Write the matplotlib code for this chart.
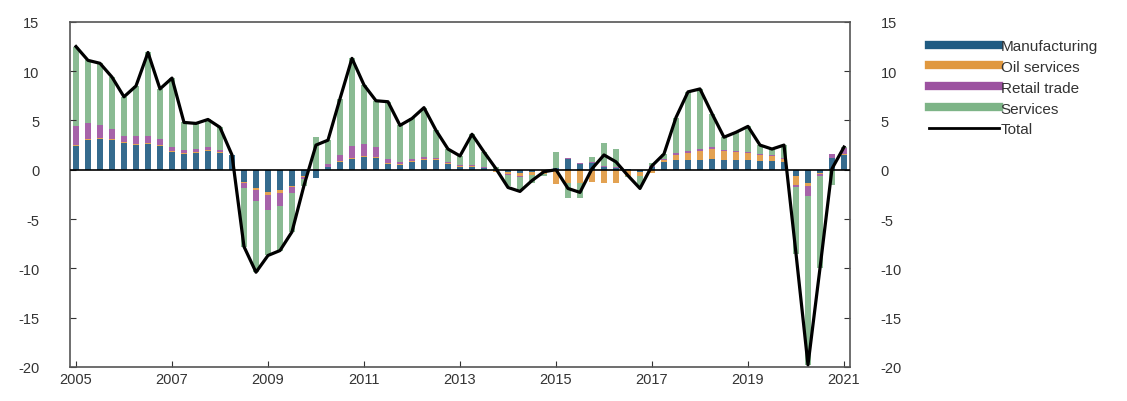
import matplotlib.pyplot as plt
import numpy as np

plt.rcParams['font.family'] = ['Liberation Sans', 'DejaVu Sans']
plt.rcParams['axes.unicode_minus'] = False

# Quarterly data, 2005Q1 - 2021Q1
years = list(range(2005, 2022))
manufacturing = [2.4, 3.0, 3.1, 3.0, 2.7, 2.5, 2.6, 2.4, 1.8, 1.6, 1.7, 1.9,
                 1.7, 1.5, -1.2, -1.9, -2.3, -2.1, -1.6, -0.6, -0.8, 0.3, 0.8, 1.1,
                 1.3, 1.2, 0.6, 0.5, 0.8, 1.0, 1.0, 0.6, 0.3, 0.3, 0.2, -0.1,
                 -0.2, -0.3, -0.2, 0.0, 0.2, 1.1, 0.6, 0.7, 0.3, 0.2, 0.1, -0.2,
                 0.3, 0.8, 1.0, 1.0, 1.0, 1.1, 1.0, 1.0, 1.0, 0.9, 0.9, 0.8,
                 -0.6, -1.3, -0.3, 1.2, 1.5]
oil_services = [0.1, 0.1, 0.1, 0.1, 0.1, 0.1, 0.1, 0.1, 0.1, 0.1, 0.1, 0.1,
                0.1, 0.0, -0.1, -0.2, -0.3, -0.3, -0.2, -0.1, 0.0, 0.0, 0.1, 0.1,
                0.1, 0.1, 0.1, 0.1, 0.1, 0.1, 0.1, 0.1, 0.1, 0.1, 0.0, -0.1,
                -0.2, -0.3, -0.3, -0.4, -1.4, -1.3, -1.3, -1.2, -1.3, -1.3, -0.6, -0.4,
                -0.3, 0.2, 0.5, 0.7, 0.9, 1.0, 0.9, 0.8, 0.7, 0.6, 0.5, 0.3,
                -0.9, -0.4, -0.1, 0.0, 0.1]
retail_trade = [1.9, 1.6, 1.3, 1.0, 0.6, 0.8, 0.7, 0.6, 0.4, 0.3, 0.3, 0.3,
                0.2, 0.0, -0.6, -1.1, -1.5, -1.3, -0.6, -0.2, 0.1, 0.3, 0.6, 1.2,
                1.2, 1.0, 0.4, 0.2, 0.2, 0.2, 0.1, 0.1, 0.1, 0.1, 0.1, 0.0,
                -0.1, -0.1, 0.0, 0.0, 0.0, 0.1, 0.1, 0.1, 0.1, 0.1, 0.0, 0.0,
                0.1, 0.1, 0.2, 0.2, 0.2, 0.2, 0.1, 0.1, 0.1, 0.1, 0.1, 0.1,
                -0.3, -1.0, -0.2, 0.4, 0.6]
services = [8.1, 6.4, 6.3, 5.3, 4.0, 5.1, 8.5, 5.1, 7.0, 2.8, 2.6, 2.8,
            2.3, 0.0, -5.9, -7.2, -4.6, -4.5, -3.9, -0.7, 3.2, 2.4, 5.7, 8.9,
            6.0, 4.7, 5.8, 3.7, 4.1, 5.0, 2.8, 1.3, 0.9, 3.1, 1.5, 0.3,
            -1.1, -1.5, -0.8, -0.2, 1.6, -1.6, -1.6, 0.5, 2.3, 1.8, -0.1, -1.0,
            0.3, 0.5, 3.6, 6.0, 6.1, 3.4, 1.3, 1.9, 2.6, 0.9, 0.6, 1.3,
            -6.7, -17.1, -9.4, -1.5, 0.1]
total = [12.5, 11.1, 10.8, 9.4, 7.4, 8.5, 11.9, 8.2, 9.3, 4.8, 4.7, 5.1,
         4.3, 1.5, -7.8, -10.4, -8.7, -8.2, -6.3, -1.6, 2.5, 3.0, 7.2, 11.3,
         8.6, 7.0, 6.9, 4.5, 5.2, 6.3, 4.0, 2.1, 1.4, 3.6, 1.8, 0.1,
         -1.8, -2.2, -1.1, -0.2, 0.0, -1.9, -2.3, 0.1, 1.5, 0.8, -0.6, -1.9,
         0.4, 1.6, 5.3, 7.9, 8.2, 5.7, 3.3, 3.8, 4.4, 2.5, 2.1, 2.5,
         -8.5, -19.8, -10.0, 0.1, 2.3]

series = [("Manufacturing", manufacturing, "#1f5b82"),
          ("Oil services", oil_services, "#e0983f"),
          ("Retail trade", retail_trade, "#9c52a0"),
          ("Services", services, "#7db487")]

x = np.arange(len(total))

fig = plt.figure(figsize=(11.27, 4.02), dpi=100)
ax = fig.add_axes([0.0621, 0.085, 0.6921, 0.858])

# stack positives upwards and negatives downwards
pos_bottom = np.zeros(len(x))
neg_bottom = np.zeros(len(x))
for name, vals, color in series:
    v = np.array(vals)
    bottom = np.where(v >= 0, pos_bottom, neg_bottom)
    ax.bar(x, v, width=0.45, bottom=bottom, color=color, alpha=0.9,
           label=name, linewidth=0)
    pos_bottom += np.where(v >= 0, v, 0)
    neg_bottom += np.where(v < 0, v, 0)

ax.axhline(0, color="black", lw=1.2, zorder=3)
ax.plot(x, total, color="black", lw=2.3, label="Total", zorder=4)

ax.set_xlim(-0.5, len(x) - 0.5)
ax.set_ylim(-20, 15)
ax.set_yticks(range(-20, 16, 5))
ax.set_xticks(x[::8])
ax.set_xticklabels([str(y) for y in years[::2]])
ax.tick_params(axis="both", direction="in", labelsize=10.5, colors="#333333",
               length=4, right=True, labelright=True)
ax.tick_params(axis="y", pad=22)
for sp in ax.spines.values():
    sp.set_color("#555555")
    sp.set_linewidth(1.2)

handles = [plt.Line2D([], [], color=c, lw=6) for _, _, c in series]
handles.append(plt.Line2D([], [], color="black", lw=2))
labels = [s[0] for s in series] + ["Total"]
fig.legend(handles, labels, loc="upper left", bbox_to_anchor=(0.812, 0.935),
           frameon=False, fontsize=11, handlelength=4.6, handletextpad=0.1,
           labelspacing=0.45, labelcolor="#333333")

plt.savefig("out.png")
plt.close()
